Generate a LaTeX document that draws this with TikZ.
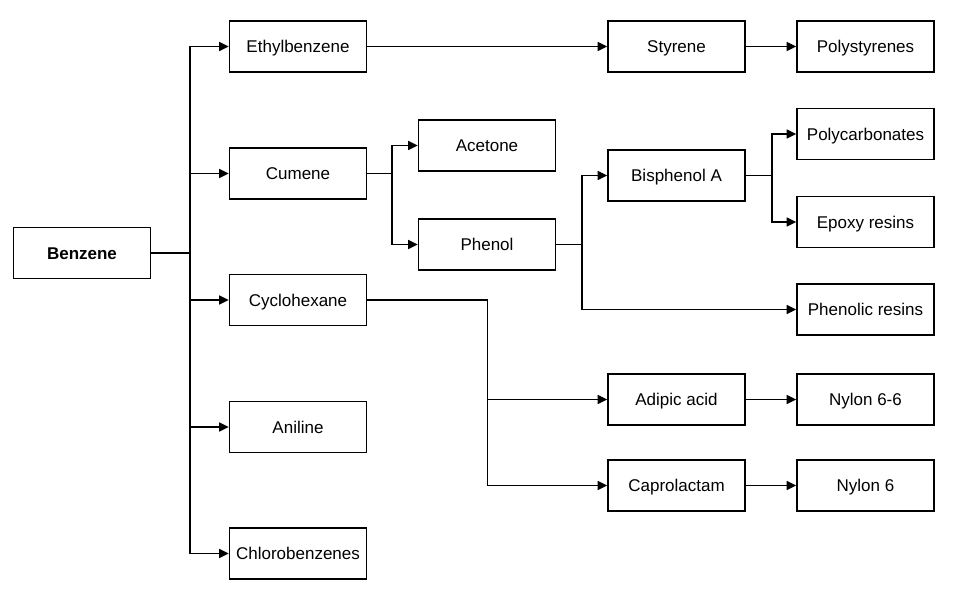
\documentclass[tikz,border=0pt]{standalone}
\usepackage{fontspec}
\setmainfont{Liberation Sans}
\usetikzlibrary{arrows.meta}
\begin{document}
\begin{tikzpicture}[x=1pt,y=-1pt,
  box/.style={draw, line width=1.8pt, minimum width=137pt, minimum height=51pt, inner sep=0pt, text height=12.2pt, text depth=0pt, font=\fontsize{17}{20}\selectfont},
  conn/.style={line width=1.5pt},
  arr/.style={conn, -{Triangle[length=9.5pt,width=9pt]}}]
\useasboundingbox (0,0) rectangle (960,598);
\fill[white] (0,0) rectangle (960,598);
% nodes
\node[box, font=\fontsize{17}{20}\selectfont\bfseries] (benzene) at (82,253) {Benzene};
\node[box] (ethyl) at (298,46.5) {Ethylbenzene};
\node[box] (cumene) at (298,173.5) {Cumene};
\node[box] (cyclo) at (298,300) {Cyclohexane};
\node[box] (aniline) at (298,427) {Aniline};
\node[box] (chloro) at (298,553.5) {Chlorobenzenes};
\node[box] (acetone) at (487,145.5) {Acetone};
\node[box] (phenol) at (487,244.5) {Phenol};
\node[box] (styrene) at (676.5,46.5) {Styrene};
\node[box] (bisA) at (676.5,175.5) {Bisphenol A};
\node[box] (adipic) at (676.5,399.5) {Adipic acid};
\node[box] (capro) at (676.5,485.5) {Caprolactam};
\node[box] (polys) at (865.5,46.5) {Polystyrenes};
\node[box] (polyc) at (865.5,134) {Polycarbonates};
\node[box] (epoxy) at (865.5,222) {Epoxy resins};
\node[box] (phenres) at (865.5,309.5) {Phenolic resins};
\node[box] (nylon66) at (865.5,399.5) {Nylon 6-6};
\node[box] (nylon6) at (865.5,485.5) {Nylon 6};
% junctions
\coordinate (jb) at (190,253);
\coordinate (jc) at (392,173.5);
\coordinate (jp) at (582,244.5);
\coordinate (jbis) at (772,175.5);
\coordinate (jcy) at (487.5,300);
% connectors
\draw[conn] (benzene.east) -- (jb);
\draw[arr] (jb) |- (ethyl.west);
\draw[arr] (jb) |- (cumene.west);
\draw[arr] (jb) |- (cyclo.west);
\draw[arr] (jb) |- (aniline.west);
\draw[arr] (jb) |- (chloro.west);
\draw[conn] (cumene.east) -- (jc);
\draw[arr] (jc) |- (acetone.west);
\draw[arr] (jc) |- (phenol.west);
\draw[conn] (phenol.east) -- (jp);
\draw[arr] (jp) |- (bisA.west);
\draw[arr] (jp) |- (phenres.west);
\draw[conn] (bisA.east) -- (jbis);
\draw[arr] (jbis) |- (polyc.west);
\draw[arr] (jbis) |- (epoxy.west);
\draw[conn] (cyclo.east) -- (jcy);
\draw[arr] (jcy) |- (adipic.west);
\draw[arr] (jcy) |- (capro.west);
\draw[arr] (ethyl.east) -- (styrene.west);
\draw[arr] (styrene.east) -- (polys.west);
\draw[arr] (adipic.east) -- (nylon66.west);
\draw[arr] (capro.east) -- (nylon6.west);
\end{tikzpicture}
\end{document}
